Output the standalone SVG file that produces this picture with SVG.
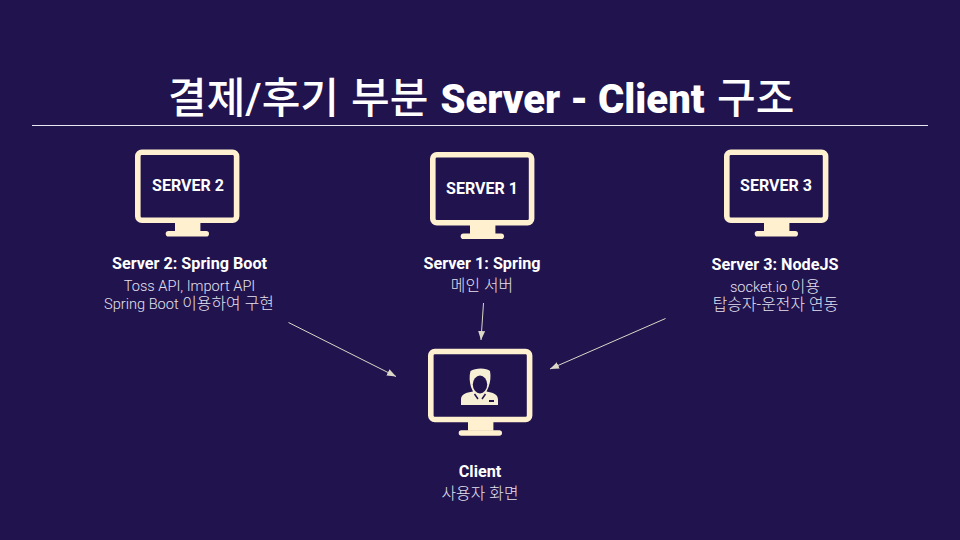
<svg xmlns="http://www.w3.org/2000/svg" width="960" height="540" viewBox="0 0 960 540">
<style>
text{font-family:Roboto,"Noto Sans CJK KR",sans-serif;fill:#fff;text-anchor:middle}
.t{font-size:42px;font-weight:500;text-anchor:start}
.l{font-size:40px;font-weight:900}
.s{font-size:16px;font-weight:700}
.h{font-size:16.200px;font-weight:700}
.d{font-size:14.600px;font-weight:300;fill:#e4e1ee}
.k{font-size:15.800px;letter-spacing:.1px}
.c{stroke:#dcd8c8;stroke-width:1;fill:none;marker-end:url(#a)}
</style>
<defs>
<marker id="a" markerUnits="userSpaceOnUse" markerWidth="10" markerHeight="8" refX="9" refY="3.5" orient="auto"><path d="M0 0L9 3.5L0 7Z" fill="#dcd8c8"/></marker>
<g id="m">
<rect x="2.800" y="2.800" width="98.800" height="68" rx="4" fill="none" stroke="#fff1d0" stroke-width="5.600"/>
<rect x="40" y="73" width="25.400" height="9" fill="#fff1d0"/>
<rect x="30.700" y="81.500" width="43.300" height="5.600" rx="2.800" fill="#fff1d0"/>
</g>
</defs>
<rect width="960" height="540" fill="#20134e"/>
<text class="t" y="113"><tspan x="168">결제/후기</tspan><tspan x="351">부분</tspan><tspan x="440.500" class="l">Server - Client</tspan><tspan x="717">구조</tspan></text>
<path d="M32 125.500H928" stroke="#e8e6f0" stroke-width="1"/>
<g id="connectors">
<path class="c" d="M288.500 322.500L396 376.500"/>
<path class="c" d="M483.500 303L481 340"/>
<path class="c" d="M665.500 318.500L550 369"/>
</g>
<g id="server2">
<use href="#m" x="135" y="149.500"/>
<text class="s" x="188" y="191">SERVER 2</text>
<text class="h" x="189.500" y="269">Server 2: Spring Boot</text>
<text class="d" x="189.500" y="291">Toss API, Import API</text>
<text class="d" x="189" y="309">Spring Boot <tspan class="k">이용하여 구현</tspan></text>
</g>
<g id="server1">
<use href="#m" x="430" y="152"/>
<text class="s" x="482" y="193.500">SERVER 1</text>
<text class="h" x="482" y="268.500">Server 1: Spring</text>
<text class="d" x="482" y="290.500"><tspan class="k">메인 서버</tspan></text>
</g>
<g id="server3">
<use href="#m" x="724" y="149.500"/>
<text class="s" x="776" y="191">SERVER 3</text>
<text class="h" x="775" y="269.500">Server 3: NodeJS</text>
<text class="d" x="775" y="291.500">socket.io <tspan class="k">이용</tspan></text>
<text class="d" x="775.500" y="309.500"><tspan class="k">탑승자-운전자 연동</tspan></text>
</g>
<g id="client">
<use href="#m" x="428" y="348.700"/>
<path d="M470.500 371C475 367.500 487 367.500 490 371C491 376 490.500 382 488.500 387L486.500 391.500L491 392.500C496 394 498 396 498 400V405H461V400C461 396 463 394 468 392.500L473 391.500L471 387C469.500 382 469 376 470.500 371Z" fill="#f7eed6"/>
<ellipse cx="480" cy="384.500" rx="7.200" ry="9" fill="#20134e"/>
<path d="M474.500 394L478 399M485.500 394L482 399" stroke="#20134e" stroke-width="1.500"/>
<rect x="489" y="400" width="5" height="2" fill="#20134e"/>
<text class="h" x="480" y="476.500">Client</text>
<text class="d" x="480" y="498.500"><tspan class="k">사용자 화면</tspan></text>
</g>
</svg>
